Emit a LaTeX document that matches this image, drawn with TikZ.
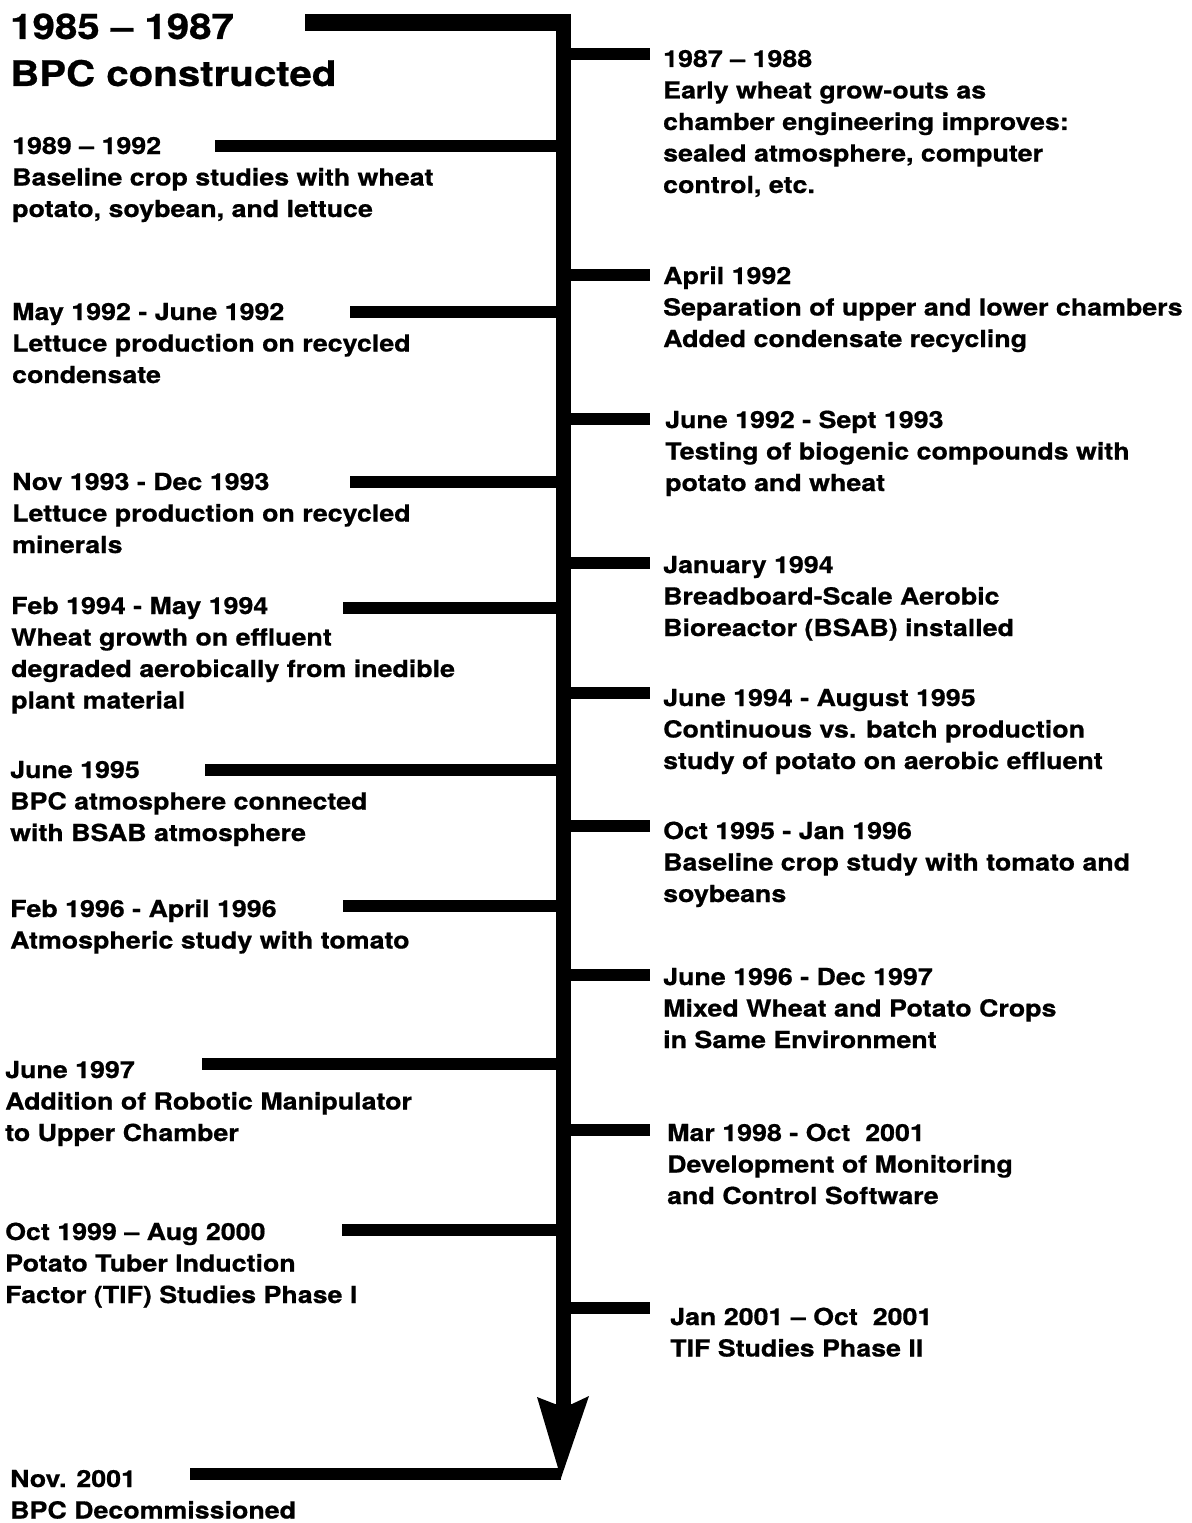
\documentclass[tikz,border=0pt]{standalone}
\usepackage{fontspec}
\setmainfont{TeX Gyre Heros}[FakeStretch=1.14, BoldFeatures={FakeBold=0.7}]
\begin{document}
\begin{tikzpicture}[x=1bp,y=-1bp,
  txt/.style={anchor=base west, inner sep=0pt, align=left,
    font=\fontsize{23.5bp}{31.5bp}\selectfont\bfseries},
  bigtxt/.style={anchor=base west, inner sep=0pt, align=left,
    font=\fontsize{35.3bp}{47bp}\selectfont\bfseries},
  bar/.style={line width=12bp, line cap=butt},
  axisline/.style={line width=15bp, line cap=butt}]
\useasboundingbox (0,0) rectangle (1191,1523);

% ---------- axis ----------
\coordinate (top) at (563.5,14);
\coordinate (shaftend) at (563.5,1404);
\coordinate (tip) at (561,1478);
\draw[axisline] (top) -- (shaftend);
\fill (537,1397) -- (555,1404) -- (572,1404) -- (589,1396) -- (tip) -- cycle;

% top bar
\coordinate (t0s) at (305,22.5);
\coordinate (t0e) at (571,22.5);
\draw[line width=17bp] (t0s) -- (t0e);
% (base anchor = baseline of the last line)
\node[bigtxt] (t0) at (10,86) {1985 – 1987\\BPC constructed};

% ---------- left labels ----------
\node[txt] (l1) at (12,217) {1989 – 1992\\Baseline crop studies with wheat\\potato, soybean, and lettuce};
\node[txt] (l2) at (12,383) {May 1992 - June 1992\\Lettuce production on recycled\\condensate};
\node[txt] (l3) at (12,553) {Nov 1993 - Dec 1993\\Lettuce production on recycled\\minerals};
\node[txt] (l4) at (11,708.5) {Feb 1994 - May 1994\\Wheat growth on effluent\\degraded aerobically from inedible\\plant material};
\node[txt] (l5) at (10,841) {June 1995\\BPC atmosphere connected\\with BSAB atmosphere};
\node[txt] (l6) at (10,948.5) {Feb 1996 - April 1996\\Atmospheric study with tomato};
\node[txt] (l7) at (5,1141) {June 1997\\Addition of Robotic Manipulator\\to Upper Chamber};
\node[txt] (l8) at (5,1303) {Oct 1999 – Aug 2000\\Potato Tuber Induction\\Factor (TIF) Studies Phase I};
\node[txt] (l9) at (10,1518.5) {Nov. 2001\\BPC Decommissioned};

\foreach \n/\xs/\yy in {1/215/146, 2/350/312, 3/350/482, 4/343/608, 5/205/770, 6/343/906, 7/202/1064, 8/342/1230}{
  \coordinate (lb\n) at (\xs,\yy);
  \coordinate (la\n) at (563.5,\yy);
  \draw[bar] (lb\n) -- (la\n);
}
\coordinate (lb9) at (190,1474);
\draw[bar] (lb9) -- (tip |- lb9);

% ---------- right labels ----------
\node[txt] (r1) at (663,193) {1987 – 1988\\Early wheat grow-outs as\\chamber engineering improves:\\sealed atmosphere, computer\\control, etc.};
\node[txt] (r2) at (663,347) {April 1992\\Separation of upper and lower chambers\\Added condensate recycling};
\node[txt] (r3) at (665,491) {June 1992 - Sept 1993\\Testing of biogenic compounds with\\potato and wheat};
\node[txt] (r4) at (663,636) {January 1994\\Breadboard-Scale Aerobic\\Bioreactor (BSAB) installed};
\node[txt] (r5) at (663,769) {June 1994 - August 1995\\Continuous vs. batch production\\study of potato on aerobic effluent};
\node[txt] (r6) at (663,902) {Oct 1995 - Jan 1996\\Baseline crop study with tomato and\\soybeans};
\node[txt] (r7) at (663,1048) {June 1996 - Dec 1997\\Mixed Wheat and Potato Crops\\in Same Environment};
\node[txt] (r8) at (667,1204) {Mar 1998 - Oct~~2001\\Development of Monitoring\\and Control Software};
\node[txt] (r9) at (670,1356.5) {Jan 2001 – Oct~~2001\\TIF Studies Phase II};

\foreach \n/\yy in {1/54, 2/275, 3/419, 4/563, 5/693, 6/826, 7/975, 8/1130, 9/1308}{
  \coordinate (ra\n) at (563.5,\yy);
  \coordinate (rb\n) at (650,\yy);
  \draw[bar] (ra\n) -- (rb\n);
}
\end{tikzpicture}
\end{document}
